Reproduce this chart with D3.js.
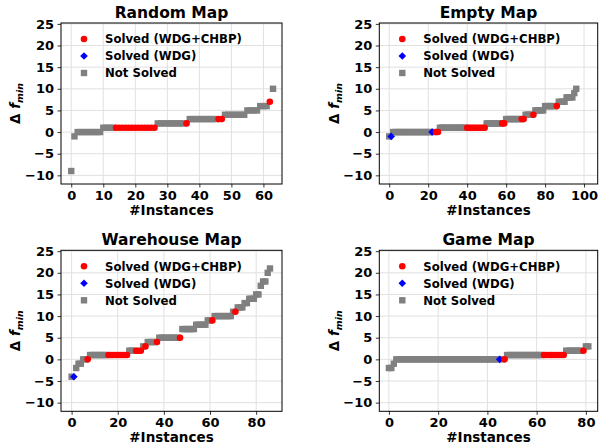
<!DOCTYPE html>
<html>
<head>
<meta charset="utf-8">
<script src="https://cdn.jsdelivr.net/npm/d3@7"></script>
<style>
  body { margin: 0; background: #fff; }
  svg text { font-family: "DejaVu Sans", sans-serif; font-weight: bold; }
</style>
</head>
<body>
<svg id="chart" width="600" height="446"></svg>
<script>
// values: sorted delta f_min per instance
// status codes: g = Not Solved, b = Solved (WDG), r = Solved (WDG+CHBP)
var randomDelta = [-9, -1,
    0, 0, 0, 0, 0, 0, 0, 0,
    1, 1, 1, 1, 1, 1, 1, 1, 1, 1, 1, 1, 1, 1, 1, 1, 1,
    2, 2, 2, 2, 2, 2, 2, 2, 2, 2,
    3, 3, 3, 3, 3, 3, 3, 3, 3, 3, 3,
    4, 4, 4, 4, 4, 4, 4,
    5, 5, 5, 5,
    6, 6, 6,
    7, 10];
var randomStatus = 'gggggggggggggg rrrrrrrrrrrrr ggggggggg r ggggggggg rr gggggggggggggg r g';

var emptyDelta = [-1, -1,
    0, 0, 0, 0, 0, 0, 0, 0, 0, 0, 0, 0, 0, 0, 0, 0, 0, 0, 0, 0, 0, 0, 0, 0,
    1, 1, 1, 1, 1, 1, 1, 1, 1, 1, 1, 1, 1, 1, 1, 1, 1, 1, 1, 1, 1, 1, 1, 1,
    2, 2, 2, 2, 2, 2, 2, 2, 2, 2,
    3, 3, 3, 3, 3, 3, 3, 3, 3, 3,
    4, 4, 4, 4, 4,
    5, 5, 5, 5, 5,
    6, 6, 6, 6, 6, 6, 6,
    7, 7, 7, 7,
    8, 8, 8, 8,
    9, 10];
var emptyStatus = 'gb gggggggggggggggggggg b g rr gggggggggggggg rrrrrrrrrr gggggggg rr gggggggg rr gggg r ggggggggggg r gggggggggg';

var warehouseDelta = [-4, -4, -2, -1, -1,
    0, 0, 0,
    1, 1, 1, 1, 1, 1, 1, 1, 1, 1, 1, 1, 1, 1, 1, 1, 1,
    2, 2, 2, 2, 2, 2,
    3, 3,
    4, 4, 4, 4, 4,
    5, 5, 5, 5, 5, 5, 5, 5, 5, 5,
    7, 7, 7, 7, 7, 7,
    8, 8, 8, 8, 8,
    9, 9, 9,
    10, 10, 10, 10, 10, 10, 10, 10,
    11, 11,
    12, 12, 12,
    13, 13,
    14, 14, 14,
    15, 15,
    17, 18, 18, 20, 21];
var warehouseStatus = 'gb ggggg r gggggggg rrrrrrrrr ggg rrr g r gggg r ggggggggg r ggggggggggggg r ggggggggg r ggggggggggggggg';

var gameDelta = [-2, -2, -1,
    0, 0, 0, 0, 0, 0, 0, 0, 0, 0, 0, 0, 0, 0, 0,
    0, 0, 0, 0, 0, 0, 0, 0, 0, 0, 0, 0, 0, 0, 0,
    0, 0, 0, 0, 0, 0, 0, 0, 0, 0, 0, 0, 0, 0, 0,
    1, 1, 1, 1, 1, 1, 1, 1, 1, 1, 1, 1, 1, 1, 1, 1, 1, 1, 1, 1, 1, 1, 1, 1,
    2, 2, 2, 2, 2, 2, 2, 2,
    3, 3];
var gameStatus = 'ggg gggggggggggggggggggggggggggggggggggggggggg b g r ggggggggggggggg rrrrrrrrr ggggggg r gg';

var yTicks = [-10, -5, 0, 5, 10, 15, 20, 25];
var legendLabels = ['Solved (WDG+CHBP)', 'Solved (WDG)', 'Not Solved'];

var panels = [
    { title: 'Random Map', delta: randomDelta, status: randomStatus, xDomain: [-3.2, 65.8], xTicks: [0, 10, 20, 30, 40, 50, 60], box: { l: 61, r: 282, t: 23, b: 184 }, ylabX: 20 },
    { title: 'Empty Map', delta: emptyDelta, status: emptyStatus, xDomain: [-5.1, 107], xTicks: [0, 20, 40, 60, 80, 100], box: { l: 379.3, r: 597.7, t: 23, b: 184 }, ylabX: 339 },
    { title: 'Warehouse Map', delta: warehouseDelta, status: warehouseStatus, xDomain: [-4.6, 91.2], xTicks: [0, 20, 40, 60, 80], box: { l: 61, r: 282, t: 250.3, b: 411.3 }, ylabX: 20 },
    { title: 'Game Map', delta: gameDelta, status: gameStatus, xDomain: [-3.9, 84.8], xTicks: [0, 20, 40, 60, 80], box: { l: 379.3, r: 597.7, t: 250.3, b: 411.3 }, ylabX: 339 }
];

var svg = d3.select('#chart');

function diamondPath(r) {
    return 'M0,' + (-r) + 'L' + r + ',0L0,' + r + 'L' + (-r) + ',0Z';
}

function drawMarker(sel, code) {
    if (code === 'r') {
        sel.append('circle').attr('r', 3.3).attr('fill', '#ff0000');
    } else if (code === 'b') {
        sel.append('path').attr('d', diamondPath(3.8)).attr('fill', '#0000ff');
    } else {
        sel.append('rect').attr('x', -3.2).attr('y', -3.2).attr('width', 6.4).attr('height', 6.4).attr('fill', '#808080');
    }
}

panels.forEach(function (p) {
    var b = p.box;
    var x = d3.scaleLinear().domain(p.xDomain).range([b.l, b.r]);
    var y = d3.scaleLinear().domain([-12, 25.2]).range([b.b, b.t]);
    var codes = p.status.replace(/ /g, '').split('');
    var pts = p.delta.map(function (v, i) {
        return { i: i, v: v, s: codes[i] };
    });

    var g = svg.append('g');

    // grid
    g.selectAll('.vgrid')
        .data(p.xTicks)
        .enter()
        .append('line')
        .attr('x1', function (d) { return x(d); })
        .attr('x2', function (d) { return x(d); })
        .attr('y1', b.t)
        .attr('y2', b.b)
        .attr('stroke', '#e0e0e0')
        .attr('stroke-width', 1);
    g.selectAll('.hgrid')
        .data(yTicks)
        .enter()
        .append('line')
        .attr('x1', b.l)
        .attr('x2', b.r)
        .attr('y1', function (d) { return y(d); })
        .attr('y2', function (d) { return y(d); })
        .attr('stroke', '#e0e0e0')
        .attr('stroke-width', 1);

    // points: gray first, then blue, then red on top
    ['g', 'b', 'r'].forEach(function (code) {
        g.selectAll('.pt-' + code)
            .data(pts.filter(function (d) { return d.s === code; }))
            .enter()
            .append('g')
            .attr('transform', function (d) { return 'translate(' + x(d.i) + ',' + y(d.v) + ')'; })
            .each(function () { drawMarker(d3.select(this), code); });
    });

    // axes
    var xAxis = d3.axisBottom(x).tickValues(p.xTicks).tickSize(3.5).tickPadding(3);
    var yAxis = d3.axisLeft(y).tickValues(yTicks).tickSize(3.5).tickPadding(3.5)
        .tickFormat(function (d) { return d < 0 ? '\u2212' + Math.abs(d) : d; });

    var gx = g.append('g').attr('transform', 'translate(0,' + b.b + ')').call(xAxis);
    var gy = g.append('g').attr('transform', 'translate(' + b.l + ',0)').call(yAxis);
    [gx, gy].forEach(function (ax) {
        ax.select('.domain').remove();
        ax.selectAll('line').attr('stroke', '#000').attr('stroke-width', 0.8);
        ax.selectAll('text')
            .attr('fill', '#000')
            .style('font-size', '13px')
            .style('font-family', '"DejaVu Sans", sans-serif')
            .style('font-weight', 'bold');
    });

    // frame
    g.append('rect')
        .attr('x', b.l)
        .attr('y', b.t)
        .attr('width', b.r - b.l)
        .attr('height', b.b - b.t)
        .attr('fill', 'none')
        .attr('stroke', '#000')
        .attr('stroke-width', 1);

    // title
    g.append('text')
        .attr('x', (b.l + b.r) / 2)
        .attr('y', b.t - 5.5)
        .attr('text-anchor', 'middle')
        .style('font-size', '15.5px')
        .text(p.title);

    // x label
    g.append('text')
        .attr('x', (b.l + b.r) / 2)
        .attr('y', b.b + 31)
        .attr('text-anchor', 'middle')
        .style('font-size', '13.5px')
        .text('#Instances');

    // y label
    var yl = g.append('text')
        .attr('transform', 'translate(' + p.ylabX + ',' + ((b.t + b.b) / 2) + ') rotate(-90)')
        .attr('text-anchor', 'middle')
        .style('font-size', '13.5px');
    yl.append('tspan').text('\u0394 ');
    yl.append('tspan').style('font-style', 'italic').text('f');
    yl.append('tspan').style('font-style', 'italic').style('font-size', '9.5px').attr('dy', 3).text('min');

    // legend
    var leg = g.append('g');
    legendLabels.forEach(function (lab, k) {
        var cy = b.t + 16 + k * 17;
        var m = leg.append('g').attr('transform', 'translate(' + (b.l + 23) + ',' + cy + ')');
        drawMarker(m, ['r', 'b', 'g'][k]);
        leg.append('text')
            .attr('x', b.l + 44)
            .attr('y', cy + 4.2)
            .style('font-size', '11.7px')
            .text(lab);
    });
});
</script>
</body>
</html>
